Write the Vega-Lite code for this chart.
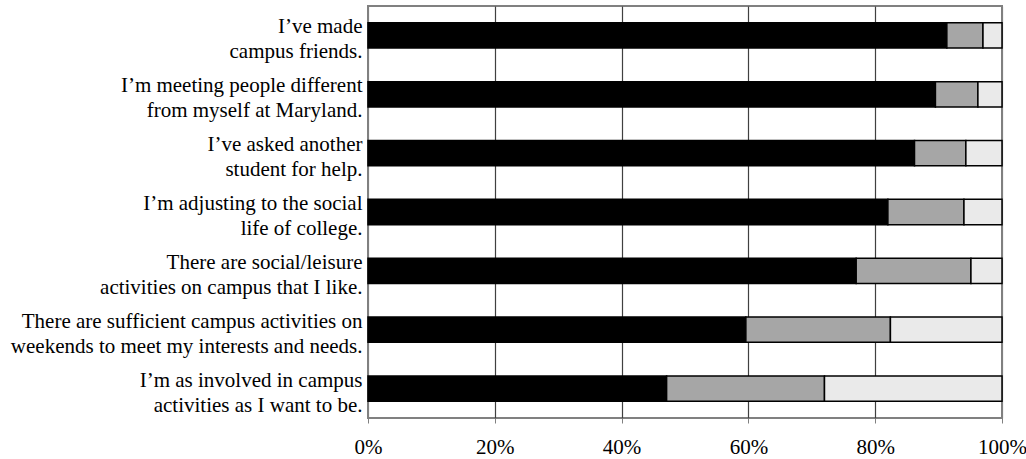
{
  "$schema": "https://vega.github.io/schema/vega-lite/v6.json",
  "width": 634,
  "height": 412,
  "autosize": {"type": "none"},
  "padding": {"left": 368, "top": 6, "right": 24, "bottom": 41},
  "background": "white",
  "config": {
    "view": {"stroke": "#808080", "strokeWidth": 2},
    "font": "Liberation Serif"
  },
  "data": {
    "values": [
      {"item": "I’ve made|campus friends.", "resp": "a", "ord": 1, "pct": 91.3},
      {"item": "I’ve made|campus friends.", "resp": "b", "ord": 2, "pct": 5.7},
      {"item": "I’ve made|campus friends.", "resp": "c", "ord": 3, "pct": 3.0},
      {"item": "I’m meeting  people different|from myself at Maryland.", "resp": "a", "ord": 1, "pct": 89.5},
      {"item": "I’m meeting  people different|from myself at Maryland.", "resp": "b", "ord": 2, "pct": 6.7},
      {"item": "I’m meeting  people different|from myself at Maryland.", "resp": "c", "ord": 3, "pct": 3.8},
      {"item": "I’ve asked another|student for help.", "resp": "a", "ord": 1, "pct": 86.2},
      {"item": "I’ve asked another|student for help.", "resp": "b", "ord": 2, "pct": 8.1},
      {"item": "I’ve asked another|student for help.", "resp": "c", "ord": 3, "pct": 5.7},
      {"item": "I’m adjusting to the social|life of college.", "resp": "a", "ord": 1, "pct": 82.0},
      {"item": "I’m adjusting to the social|life of college.", "resp": "b", "ord": 2, "pct": 12.0},
      {"item": "I’m adjusting to the social|life of college.", "resp": "c", "ord": 3, "pct": 6.0},
      {"item": "There are social/leisure|activities on campus that I like.", "resp": "a", "ord": 1, "pct": 77.0},
      {"item": "There are social/leisure|activities on campus that I like.", "resp": "b", "ord": 2, "pct": 18.1},
      {"item": "There are social/leisure|activities on campus that I like.", "resp": "c", "ord": 3, "pct": 4.9},
      {"item": "There are sufficient campus activities on|weekends to meet my interests and needs.", "resp": "a", "ord": 1, "pct": 59.6},
      {"item": "There are sufficient campus activities on|weekends to meet my interests and needs.", "resp": "b", "ord": 2, "pct": 22.8},
      {"item": "There are sufficient campus activities on|weekends to meet my interests and needs.", "resp": "c", "ord": 3, "pct": 17.6},
      {"item": "I’m as involved in campus|activities as I want to be.", "resp": "a", "ord": 1, "pct": 47.1},
      {"item": "I’m as involved in campus|activities as I want to be.", "resp": "b", "ord": 2, "pct": 24.9},
      {"item": "I’m as involved in campus|activities as I want to be.", "resp": "c", "ord": 3, "pct": 28.0}
    ]
  },
  "mark": {"type": "bar", "stroke": "black", "strokeWidth": 1.5},
  "encoding": {
    "y": {
      "field": "item",
      "type": "nominal",
      "sort": null,
      "title": null,
      "scale": {"paddingInner": 0.57, "paddingOuter": 0.285},
      "axis": {
        "labelExpr": "split(datum.label, '|')",
        "labelFontSize": 21,
        "labelLineHeight": 25,
        "labelColor": "black",
        "labelPadding": 6,
        "labelOffset": -8,
        "labelLimit": 0,
        "ticks": false,
        "domain": false
      }
    },
    "x": {
      "field": "pct",
      "type": "quantitative",
      "stack": "zero",
      "title": null,
      "scale": {"domain": [0, 100], "nice": false},
      "axis": {
        "values": [0, 20, 40, 60, 80, 100],
        "labelExpr": "datum.value + '%'",
        "labelFontSize": 21,
        "labelColor": "black",
        "labelFlush": false,
        "labelOverlap": false,
        "labelBound": false,
        "labelPadding": 13,
        "grid": true,
        "gridColor": {"condition": {"test": "datum.value == 0 || datum.value == 100", "value": "#808080"}, "value": "#404040"},
        "gridWidth": 1.2,
        "tickColor": "#808080",
        "tickSize": 5,
        "domain": false
      }
    },
    "color": {
      "field": "resp",
      "type": "nominal",
      "scale": {"domain": ["a", "b", "c"], "range": ["#000000", "#a6a6a6", "#eaeaea"]},
      "legend": null
    },
    "order": {"field": "ord"}
  }
}
